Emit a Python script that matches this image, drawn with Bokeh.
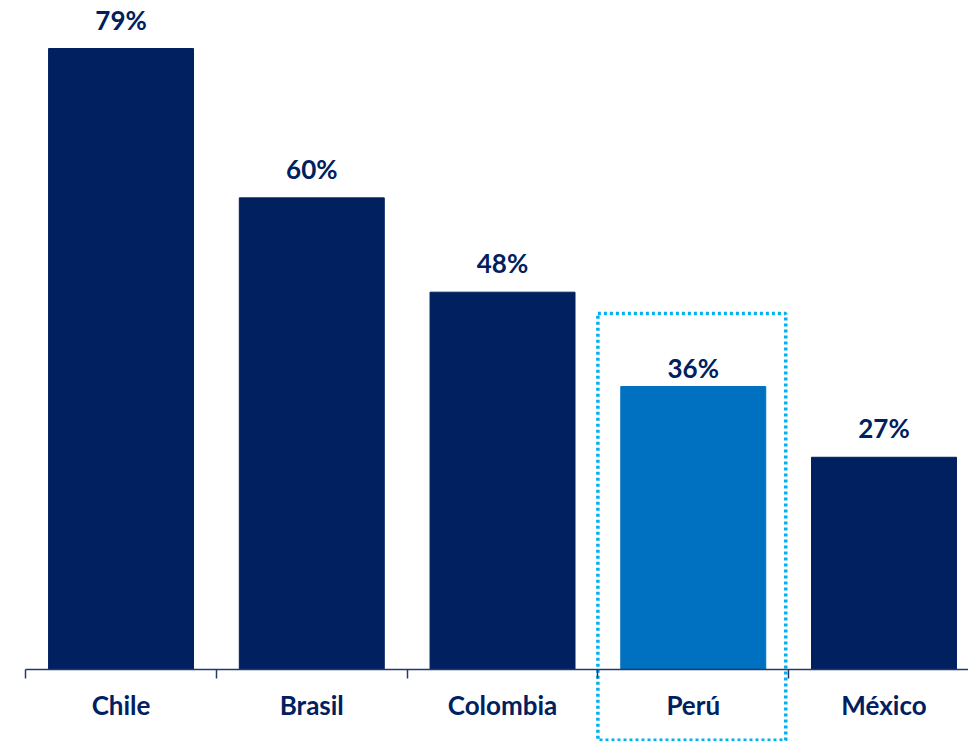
from bokeh.plotting import figure
from bokeh.models import Range1d, LinearAxis, FixedTicker, ColumnDataSource
from bokeh.core.properties import value
from bokeh.embed import file_html
from bokeh.resources import INLINE

# ---- data ----
countries = ["Chile", "Brasil", "Colombia", "Perú", "México"]
shares = [79, 60, 48, 36, 27]
highlight = "Perú"

# ---- style ----
NAVY = "#002060"
BLUE = "#0070C0"
CYAN = "#00B0F0"
AXIS = "#233a6b"
FONT = "Lato"
label_gap = [29, 29, 29, 19, 29]

xs = list(range(len(countries)))
colors = [BLUE if c == highlight else NAVY for c in countries]
texts = [f"{v}%" for v in shares]

src = ColumnDataSource(dict(x=xs, top=shares, color=colors, text=texts,
                            yoff=[-g for g in label_gap]))

p = figure(width=968, height=741,
           x_range=Range1d(-0.632, 4.443), y_range=Range1d(-9.16, 85.11),
           output_backend="svg", toolbar_location=None,
           x_axis_type=None, y_axis_type=None, min_border=0)
p.outline_line_color = None
p.background_fill_color = "white"

p.vbar(x="x", top="top", width=0.76, bottom=0, color="color", source=src)

p.text(x="x", y="top", text="text", source=src, y_offset="yoff",
       text_align="center", text_baseline="alphabetic",
       text_font=value(FONT), text_font_style="bold",
       text_font_size="26px", text_color=NAVY)

bounds = [i - 0.5 for i in range(len(countries) + 1)]
ax = LinearAxis(ticker=FixedTicker(ticks=xs, minor_ticks=bounds),
                fixed_location=0, bounds=(-0.5, len(countries)))
overrides = {}
for i, c in enumerate(countries):
    overrides[i] = c
    overrides[str(i)] = c
ax.major_label_overrides = overrides
ax.axis_line_color = AXIS
ax.axis_line_width = 1.5
ax.major_tick_line_color = None
ax.major_tick_out = 0
ax.major_tick_in = 0
ax.minor_tick_line_color = AXIS
ax.minor_tick_line_width = 1.5
ax.minor_tick_out = 9
ax.minor_tick_in = 0
ax.major_label_text_font = FONT
ax.major_label_text_font_style = "bold"
ax.major_label_text_font_size = "26px"
ax.major_label_text_color = NAVY
ax.major_label_standoff = 11
p.add_layout(ax, "below")

# dotted highlight box around the highlighted category
hi = countries.index(highlight)
p.quad(left=[hi - 0.5], right=[hi + 0.485], bottom=[-9.0], top=[45.3],
       fill_color=None, line_color=CYAN, line_width=3.5,
       line_dash="3 3", line_cap="butt")

open("out.html", "w").write(file_html(p, INLINE))
